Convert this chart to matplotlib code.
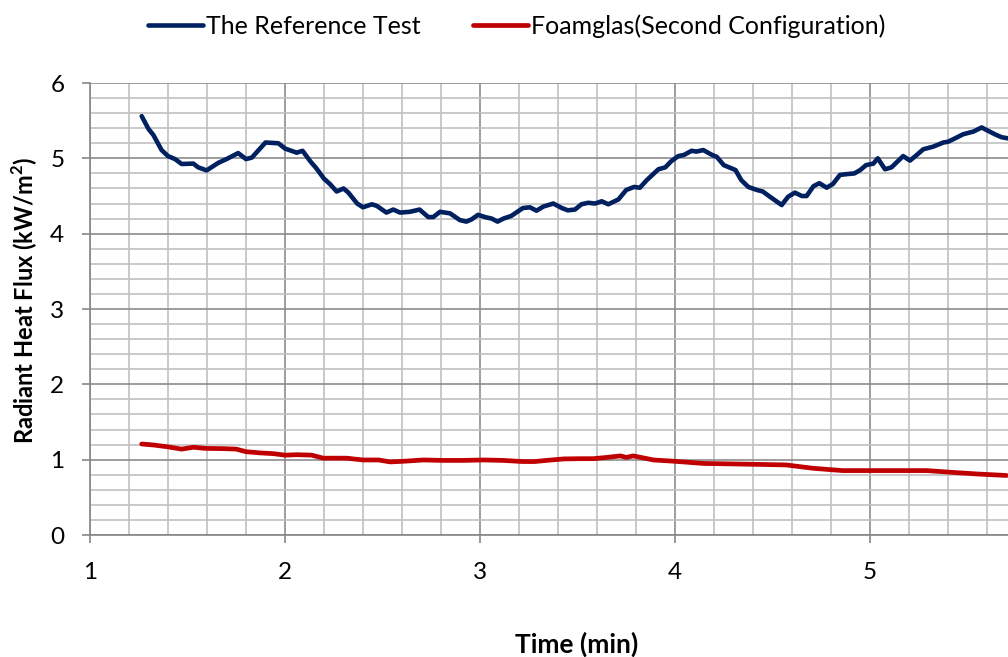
import matplotlib
matplotlib.use("Agg")
import matplotlib.pyplot as plt
from matplotlib.ticker import MultipleLocator, FixedLocator

# Data
ref_time = [1.265, 1.30, 1.325, 1.367, 1.40, 1.436, 1.47, 1.53, 1.555, 1.598,
            1.658, 1.70, 1.76, 1.80, 1.83, 1.90, 1.966, 2.0, 2.06, 2.09,
            2.13, 2.16, 2.20, 2.23, 2.265, 2.30, 2.325, 2.37, 2.40, 2.445,
            2.47, 2.52, 2.555, 2.59, 2.64, 2.69, 2.735, 2.76, 2.795, 2.846,
            2.897, 2.93, 2.957, 2.99, 3.026, 3.06, 3.09, 3.12, 3.16, 3.22,
            3.256, 3.29, 3.325, 3.376, 3.42, 3.45, 3.487, 3.52, 3.555, 3.59,
            3.624, 3.658, 3.71, 3.75, 3.79, 3.82, 3.855, 3.915, 3.95, 3.98,
            4.017, 4.046, 4.085, 4.11, 4.145, 4.19, 4.214, 4.25, 4.31, 4.34,
            4.376, 4.42, 4.45, 4.487, 4.547, 4.58, 4.615, 4.65, 4.675, 4.71,
            4.74, 4.778, 4.81, 4.846, 4.88, 4.92, 4.95, 4.98, 5.017, 5.04,
            5.077, 5.11, 5.17, 5.205, 5.24, 5.273, 5.324, 5.376, 5.40, 5.436,
            5.478, 5.53, 5.573, 5.598, 5.64, 5.675, 5.708]
ref_flux = [5.56, 5.39, 5.31, 5.11, 5.03, 4.99, 4.925, 4.93, 4.88, 4.84,
            4.94, 4.99, 5.07, 4.99, 5.01, 5.21, 5.20, 5.13, 5.075, 5.10,
            4.96, 4.87, 4.73, 4.66, 4.56, 4.60, 4.545, 4.40, 4.35, 4.39,
            4.37, 4.28, 4.32, 4.28, 4.29, 4.32, 4.22, 4.22, 4.29, 4.27,
            4.18, 4.16, 4.19, 4.25, 4.22, 4.20, 4.16, 4.20, 4.235, 4.34,
            4.35, 4.305, 4.36, 4.40, 4.34, 4.31, 4.32, 4.39, 4.41, 4.40,
            4.43, 4.39, 4.455, 4.58, 4.62, 4.61, 4.71, 4.855, 4.88, 4.96,
            5.03, 5.045, 5.10, 5.09, 5.11, 5.045, 5.02, 4.91, 4.845, 4.71,
            4.62, 4.58, 4.56, 4.49, 4.38, 4.49, 4.545, 4.50, 4.50, 4.63,
            4.67, 4.61, 4.66, 4.78, 4.79, 4.80, 4.845, 4.91, 4.93, 5.00,
            4.855, 4.88, 5.03, 4.97, 5.045, 5.12, 5.155, 5.21, 5.22, 5.265,
            5.32, 5.355, 5.41, 5.375, 5.32, 5.28, 5.265]

foam_time = [1.265, 1.325, 1.40, 1.47, 1.53, 1.59, 1.69, 1.75, 1.80, 1.87,
             1.94, 2.0, 2.06, 2.137, 2.196, 2.316, 2.40, 2.48, 2.54, 2.615,
             2.71, 2.81, 2.91, 3.017, 3.12, 3.22, 3.28, 3.34, 3.43, 3.51,
             3.58, 3.65, 3.72, 3.75, 3.786, 3.89, 3.99, 4.145, 4.37, 4.57,
             4.71, 4.86, 4.98, 5.12, 5.29, 5.43, 5.55, 5.70]
foam_flux = [1.208, 1.195, 1.17, 1.14, 1.165, 1.15, 1.146, 1.14, 1.106, 1.09,
             1.08, 1.06, 1.066, 1.06, 1.02, 1.02, 0.996, 0.996, 0.97, 0.98,
             0.996, 0.99, 0.99, 0.996, 0.99, 0.975, 0.975, 0.99, 1.01, 1.013,
             1.013, 1.03, 1.05, 1.03, 1.05, 0.996, 0.98, 0.95, 0.94, 0.93,
             0.885, 0.855, 0.855, 0.855, 0.855, 0.83, 0.81, 0.79]

series_labels = ["The Reference Test", "Foamglas(Second Configuration)"]
x_ticks = [1, 2, 3, 4, 5]
y_ticks = [0, 1, 2, 3, 4, 5, 6]

plt.rcParams['font.family'] = ['Lato', 'DejaVu Sans']

W, H = 1008, 657
fig = plt.figure(figsize=(W / 100, H / 100), dpi=100)
# axes extends past the right edge (original chart was cropped there)
x0, x1, ytop, ybot = 90, 1065, 83, 535
ax = fig.add_axes([x0 / W, 1 - ybot / H, (x1 - x0) / W, (ybot - ytop) / H])

ax.plot(ref_time, ref_flux, color='#002060', lw=3.3, label=series_labels[0],
        solid_capstyle='round', solid_joinstyle='round', zorder=3)
ax.plot(foam_time, foam_flux, color='#C00000', lw=3.4, label=series_labels[1],
        solid_capstyle='round', solid_joinstyle='round', zorder=3)

ax.set_xlim(1, 6)
ax.set_ylim(0, 6)
ax.xaxis.set_major_locator(FixedLocator(x_ticks))
ax.xaxis.set_minor_locator(MultipleLocator(0.2))
ax.yaxis.set_major_locator(FixedLocator(y_ticks))
ax.yaxis.set_minor_locator(MultipleLocator(0.2))

ax.grid(which='minor', color='#C0C0C0', lw=1.2, zorder=0)
ax.grid(which='major', color='#8C8C8C', lw=1.2, zorder=1)
ax.axvline(6, color='#8C8C8C', lw=1.2, zorder=1)
ax.set_axisbelow(True)

for s in ['top', 'right']:
    ax.spines[s].set_visible(False)
for s in ['left', 'bottom']:
    ax.spines[s].set_color('#868686')
    ax.spines[s].set_linewidth(1.2)

ax.tick_params(which='major', length=5.5, width=1.2, color='#868686',
               labelsize=17.5)
ax.tick_params(axis='y', pad=13)
ax.tick_params(axis='x', pad=14)
ax.tick_params(which='minor', length=0)

fig.text(25 / W, 1 - 300 / H, 'Radiant Heat Flux (kW/m$^\\mathregular{2}$)',
         fontsize=17, fontweight='bold', rotation=90, ha='center', va='center')
fig.text(577 / W, 1 - 644 / H, 'Time (min)', fontsize=19, fontweight='bold',
         ha='center', va='center')

fig.legend(loc='center', bbox_to_anchor=(517 / W, 1 - 26 / H), ncol=2,
           frameon=False, fontsize=18, handlelength=2.2, handletextpad=0.12,
           columnspacing=2.1, borderpad=0, borderaxespad=0)

fig.savefig('out.png', dpi=100)
